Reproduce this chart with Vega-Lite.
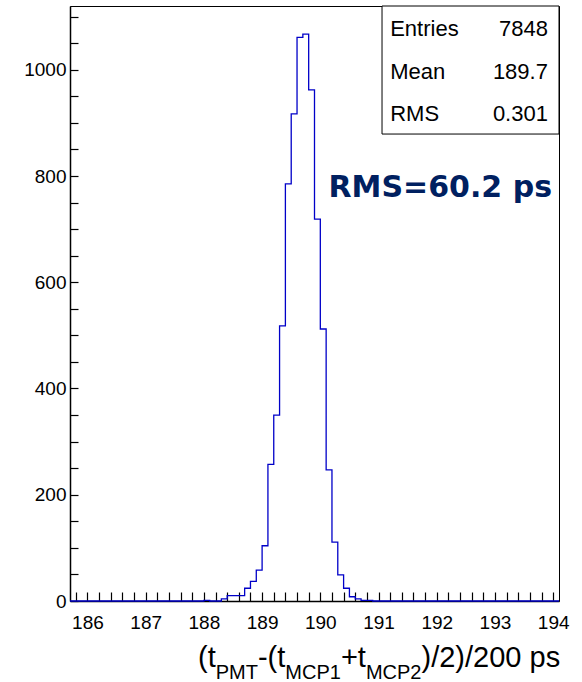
{
  "$schema": "https://vega.github.io/schema/vega-lite/v6.json",
  "width": 489,
  "height": 595,
  "autosize": {"type": "none"},
  "padding": {"left": 70, "top": 6, "right": 23, "bottom": 81},
  "background": "white",
  "config": {
    "view": {"stroke": "black", "strokeWidth": 1},
    "axis": {
      "grid": false,
      "domainColor": "black",
      "tickColor": "black",
      "labelColor": "black",
      "labelFont": "Liberation Sans",
      "labelFontSize": 19,
      "domainWidth": 1.5,
      "tickWidth": 1.2,
      "zindex": 1,
      "labelFlush": false,
      "labelOverlap": false,
      "title": null
    },
    "text": {"font": "Liberation Sans"}
  },
  "layer": [
    {
      "data": {"values": [
        {"t": 185.7, "n": 0}, {"t": 187.9, "n": 0}, {"t": 188.0, "n": 1}, {"t": 188.1, "n": 0},
        {"t": 188.2, "n": 0}, {"t": 188.3, "n": 4}, {"t": 188.4, "n": 10}, {"t": 188.5, "n": 10},
        {"t": 188.6, "n": 10}, {"t": 188.7, "n": 24}, {"t": 188.8, "n": 37}, {"t": 188.9, "n": 58},
        {"t": 189.0, "n": 104}, {"t": 189.1, "n": 257}, {"t": 189.2, "n": 350}, {"t": 189.3, "n": 518},
        {"t": 189.4, "n": 785}, {"t": 189.5, "n": 917}, {"t": 189.6, "n": 1061}, {"t": 189.7, "n": 1067},
        {"t": 189.8, "n": 962}, {"t": 189.9, "n": 719}, {"t": 190.0, "n": 512}, {"t": 190.1, "n": 247},
        {"t": 190.2, "n": 111}, {"t": 190.3, "n": 49}, {"t": 190.4, "n": 24}, {"t": 190.5, "n": 8},
        {"t": 190.6, "n": 4}, {"t": 190.7, "n": 1}, {"t": 190.8, "n": 1}, {"t": 190.9, "n": 0},
        {"t": 194.1, "n": 0}
      ]},
      "mark": {"type": "line", "interpolate": "step-after", "color": "#0000c8", "strokeWidth": 1.3},
      "encoding": {
        "x": {"field": "t", "type": "quantitative",
              "scale": {"domain": [185.7, 194.1], "nice": false, "zero": false},
              "axis": {"orient": "bottom",
                       "values": [185.8, 186, 186.2, 186.4, 186.6, 186.8, 187, 187.2, 187.4, 187.6, 187.8,
                                  188, 188.2, 188.4, 188.6, 188.8, 189, 189.2, 189.4, 189.6, 189.8,
                                  190, 190.2, 190.4, 190.6, 190.8, 191, 191.2, 191.4, 191.6, 191.8,
                                  192, 192.2, 192.4, 192.6, 192.8, 193, 193.2, 193.4, 193.6, 193.8, 194],
                       "labelExpr": "abs(datum.value - round(datum.value)) < 0.01 ? format(datum.value, 'd') : ''",
                       "tickSize": -9,
                       "labelPadding": 21,
                       "encode": {"ticks": {"y2": {"condition": {"test": "abs(datum.value - round(datum.value)) < 0.01", "value": -18}, "value": -9}}}}},
        "y": {"field": "n", "type": "quantitative",
              "scale": {"domain": [0, 1120], "nice": false, "zero": false},
              "axis": {"orient": "left",
                       "values": [0, 50, 100, 150, 200, 250, 300, 350, 400, 450, 500, 550, 600, 650,
                                  700, 750, 800, 850, 900, 950, 1000, 1050, 1100],
                       "labelExpr": "datum.value % 200 === 0 ? format(datum.value, 'd') : ''",
                       "tickSize": -8,
                       "labelPadding": 12,
                       "encode": {"ticks": {"x2": {"condition": {"test": "datum.value % 200 === 0", "value": 15}, "value": 8}}}}}
      }
    },
    {
      "data": {"values": [{}]},
      "mark": {"type": "rect", "fill": "white", "stroke": "black", "strokeWidth": 1},
      "encoding": {
        "x": {"datum": 191.06, "type": "quantitative", "axis": null},
        "x2": {"datum": 194.1},
        "y": {"datum": 879, "type": "quantitative", "axis": null},
        "y2": {"datum": 1120}
      }
    },
    {
      "data": {"values": [{"s": "Entries"}]},
      "mark": {"type": "text", "fontSize": 22, "align": "left", "baseline": "alphabetic", "color": "black"},
      "encoding": {"text": {"field": "s"},
        "x": {"datum": 191.2, "type": "quantitative", "axis": null},
        "y": {"datum": 1063, "type": "quantitative", "axis": null}}
    },
    {
      "data": {"values": [{"s": "7848"}]},
      "mark": {"type": "text", "fontSize": 22, "align": "right", "baseline": "alphabetic", "color": "black"},
      "encoding": {"text": {"field": "s"},
        "x": {"datum": 193.91, "type": "quantitative", "axis": null},
        "y": {"datum": 1063, "type": "quantitative", "axis": null}}
    },
    {
      "data": {"values": [{"s": "Mean"}]},
      "mark": {"type": "text", "fontSize": 22, "align": "left", "baseline": "alphabetic", "color": "black"},
      "encoding": {"text": {"field": "s"},
        "x": {"datum": 191.2, "type": "quantitative", "axis": null},
        "y": {"datum": 983, "type": "quantitative", "axis": null}}
    },
    {
      "data": {"values": [{"s": "189.7"}]},
      "mark": {"type": "text", "fontSize": 22, "align": "right", "baseline": "alphabetic", "color": "black"},
      "encoding": {"text": {"field": "s"},
        "x": {"datum": 193.91, "type": "quantitative", "axis": null},
        "y": {"datum": 983, "type": "quantitative", "axis": null}}
    },
    {
      "data": {"values": [{"s": "RMS"}]},
      "mark": {"type": "text", "fontSize": 22, "align": "left", "baseline": "alphabetic", "color": "black"},
      "encoding": {"text": {"field": "s"},
        "x": {"datum": 191.2, "type": "quantitative", "axis": null},
        "y": {"datum": 903, "type": "quantitative", "axis": null}}
    },
    {
      "data": {"values": [{"s": "0.301"}]},
      "mark": {"type": "text", "fontSize": 22, "align": "right", "baseline": "alphabetic", "color": "black"},
      "encoding": {"text": {"field": "s"},
        "x": {"datum": 193.91, "type": "quantitative", "axis": null},
        "y": {"datum": 903, "type": "quantitative", "axis": null}}
    },
    {
      "data": {"values": [{"s": "RMS=60.2 ps"}]},
      "mark": {"type": "text", "font": "DejaVu Sans", "fontWeight": "bold", "fontSize": 30, "align": "right", "baseline": "alphabetic", "color": "#002060"},
      "encoding": {"text": {"field": "s"},
        "x": {"datum": 193.98, "type": "quantitative", "axis": null},
        "y": {"datum": 760, "type": "quantitative", "axis": null}}
    },
    {
      "data": {"values": [{"s": "(t"}]},
      "mark": {"type": "text", "fontSize": 29, "align": "left", "baseline": "alphabetic", "color": "black"},
      "encoding": {"text": {"field": "s"},
        "x": {"datum": 187.899, "type": "quantitative", "axis": null},
        "y": {"datum": -124, "type": "quantitative", "axis": null}}
    },
    {
      "data": {"values": [{"s": "PMT"}]},
      "mark": {"type": "text", "fontSize": 20, "align": "left", "baseline": "alphabetic", "color": "black"},
      "encoding": {"text": {"field": "s"},
        "x": {"datum": 188.203, "type": "quantitative", "axis": null},
        "y": {"datum": -146, "type": "quantitative", "axis": null}}
    },
    {
      "data": {"values": [{"s": "-(t"}]},
      "mark": {"type": "text", "fontSize": 29, "align": "left", "baseline": "alphabetic", "color": "black"},
      "encoding": {"text": {"field": "s"},
        "x": {"datum": 188.928, "type": "quantitative", "axis": null},
        "y": {"datum": -124, "type": "quantitative", "axis": null}}
    },
    {
      "data": {"values": [{"s": "MCP1"}]},
      "mark": {"type": "text", "fontSize": 20, "align": "left", "baseline": "alphabetic", "color": "black"},
      "encoding": {"text": {"field": "s"},
        "x": {"datum": 189.398, "type": "quantitative", "axis": null},
        "y": {"datum": -146, "type": "quantitative", "axis": null}}
    },
    {
      "data": {"values": [{"s": "+t"}]},
      "mark": {"type": "text", "fontSize": 29, "align": "left", "baseline": "alphabetic", "color": "black"},
      "encoding": {"text": {"field": "s"},
        "x": {"datum": 190.354, "type": "quantitative", "axis": null},
        "y": {"datum": -124, "type": "quantitative", "axis": null}}
    },
    {
      "data": {"values": [{"s": "MCP2"}]},
      "mark": {"type": "text", "fontSize": 20, "align": "left", "baseline": "alphabetic", "color": "black"},
      "encoding": {"text": {"field": "s"},
        "x": {"datum": 190.783, "type": "quantitative", "axis": null},
        "y": {"datum": -146, "type": "quantitative", "axis": null}}
    },
    {
      "data": {"values": [{"s": ")/2)/200 ps"}]},
      "mark": {"type": "text", "fontSize": 29, "align": "left", "baseline": "alphabetic", "color": "black"},
      "encoding": {"text": {"field": "s"},
        "x": {"datum": 191.738, "type": "quantitative", "axis": null},
        "y": {"datum": -124, "type": "quantitative", "axis": null}}
    }
  ],
  "resolve": {"axis": {"x": "independent", "y": "independent"}}
}
